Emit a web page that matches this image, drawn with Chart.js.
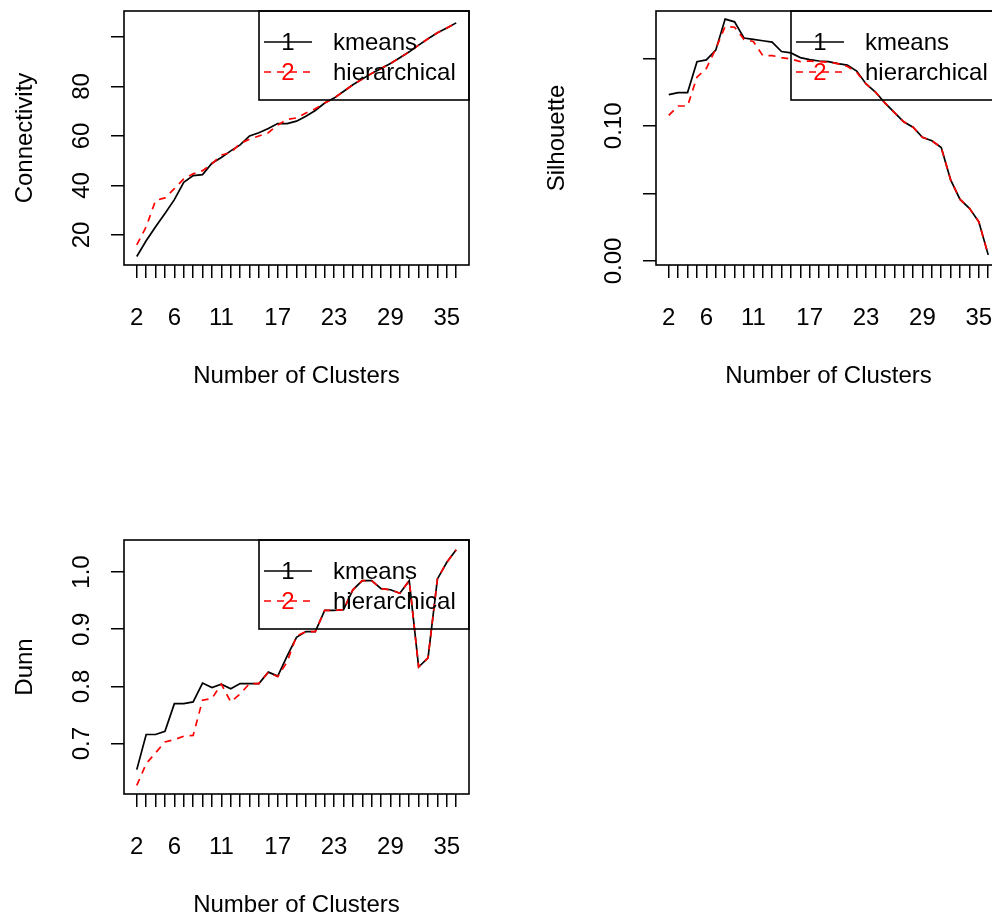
<!DOCTYPE html>
<html>
<head>
<meta charset="utf-8">
<script src="https://cdn.jsdelivr.net/npm/chart.js@4/dist/chart.umd.min.js"></script>
<style>
  html, body { margin: 0; padding: 0; background: #fff; overflow: hidden; width: 992px; height: 916px; }
  .panel { position: absolute; width: 496px; height: 458px; }
</style>
</head>
<body>
<div class="panel" style="left:0;top:0"><canvas id="conn" width="496" height="458"></canvas></div>
<div class="panel" style="left:532px;top:0"><canvas id="sil" width="496" height="458"></canvas></div>
<div class="panel" style="left:0;top:529px"><canvas id="dunn" width="496" height="458"></canvas></div>
<script>
const clusters = [2, 3, 4, 5, 6, 7, 8, 9, 10, 11, 12, 13, 14, 15, 16, 17, 18, 19,
  20, 21, 22, 23, 24, 25, 26, 27, 28, 29, 30, 31, 32, 33, 34, 35, 36];
const xTickLabels = [2, 6, 11, 17, 23, 29, 35];
const seriesNames = ['kmeans', 'hierarchical'];

const connKmeans = [11.3, 17.7, 23.3, 28.7, 34.3, 41.3, 44.0, 44.4, 49.0, 51.3, 54.0, 56.4,
  60.0, 61.3, 63.0, 65.0, 65.0, 66.0, 68.0, 70.3, 73.3, 75.3, 78.0, 80.7, 83.0, 85.3,
  87.3, 89.3, 91.6, 94.0, 96.7, 99.3, 101.7, 103.6, 105.7];
const connHier = [16.0, 23.3, 34.0, 35.0, 38.7, 42.7, 44.7, 46.0, 48.7, 52.3, 53.3, 57.0,
  58.7, 60.0, 61.3, 64.4, 66.7, 67.3, 69.3, 71.0, 73.3, 75.3, 78.0, 80.7, 83.0, 85.3,
  87.3, 89.3, 91.6, 94.0, 96.7, 99.3, 101.7, 103.6, 105.7];

const silKmeans = [0.1231, 0.1246, 0.1246, 0.1475, 0.1488, 0.156, 0.179, 0.177, 0.165,
  0.164, 0.163, 0.162, 0.155, 0.154, 0.1505, 0.149, 0.148, 0.1475, 0.146, 0.145, 0.1405,
  0.131, 0.125, 0.117, 0.110, 0.103, 0.099, 0.0915, 0.089, 0.084, 0.060, 0.0455, 0.039,
  0.029, 0.0045];
const silHier = [0.1077, 0.1147, 0.1147, 0.136, 0.1425, 0.157, 0.1736, 0.173, 0.164,
  0.1624, 0.152, 0.152, 0.1505, 0.1495, 0.1475, 0.148, 0.1475, 0.147, 0.146, 0.144, 0.1396,
  0.131, 0.125, 0.117, 0.110, 0.103, 0.099, 0.0915, 0.089, 0.084, 0.060, 0.0455, 0.039,
  0.029, 0.0045];

const dunnKmeans = [0.6546, 0.716, 0.716, 0.7216, 0.770, 0.770, 0.773, 0.806, 0.798, 0.804,
  0.796, 0.805, 0.805, 0.805, 0.825, 0.818, 0.853, 0.886, 0.896, 0.896, 0.933, 0.933,
  0.934, 0.969, 0.985, 0.985, 0.971, 0.969, 0.963, 0.985, 0.834, 0.850, 0.988, 1.017, 1.039];
const dunnHier = [0.627, 0.665, 0.684, 0.703, 0.707, 0.713, 0.7145, 0.776, 0.779, 0.804,
  0.773, 0.787, 0.805, 0.805, 0.825, 0.817, 0.843, 0.888, 0.896, 0.896, 0.933, 0.933,
  0.934, 0.969, 0.985, 0.985, 0.971, 0.969, 0.963, 0.985, 0.834, 0.850, 0.988, 1.017, 1.039];

const connTicks = [20, 40, 60, 80, 100];
const connTickLabels = ['20', '40', '60', '80', ''];
const silTicks = [0, 0.05, 0.10, 0.15];
const silTickLabels = ['0.00', '', '0.10', ''];
const dunnTicks = [0.7, 0.8, 0.9, 1.0];
const dunnTickLabels = ['0.7', '0.8', '0.9', '1.0'];

const FONT = "'Liberation Sans', Arial, sans-serif";
const FSIZE = 24;

// box, rotated y labels and R-style legend
const rDecor = {
  id: 'rDecor',
  afterDraw(chart) {
    const ctx = chart.ctx;
    const ca = chart.chartArea;
    const opts = chart.options.plugins.rDecor;
    ctx.save();
    ctx.strokeStyle = '#000';
    ctx.lineWidth = 1.6;
    ctx.strokeRect(ca.left, ca.top, ca.right - ca.left, ca.bottom - ca.top);

    ctx.fillStyle = '#000';
    ctx.font = FSIZE + 'px ' + FONT;
    ctx.textAlign = 'center';
    ctx.textBaseline = 'middle';
    const ys = chart.scales.y;
    opts.ticks.forEach((v, i) => {
      if (!opts.labels[i]) return;
      const py = ys.getPixelForValue(v);
      ctx.save();
      ctx.translate(ca.left - 43, py);
      ctx.rotate(-Math.PI / 2);
      ctx.fillText(opts.labels[i], 0, 1);
      ctx.restore();
    });

    // legend
    const lx = ca.left + 135, ly = ca.top;
    ctx.lineWidth = 1.6;
    ctx.strokeRect(lx, ly, ca.right - lx, 89);
    const colors = ['#000', '#ff0000'];
    seriesNames.forEach((name, i) => {
      const ry = ly + 31 + i * 30;
      ctx.strokeStyle = colors[i];
      ctx.setLineDash(i === 1 ? [7, 6] : []);
      ctx.beginPath();
      ctx.moveTo(lx + 5, ry);
      ctx.lineTo(lx + 53, ry);
      ctx.stroke();
      ctx.setLineDash([]);
      ctx.fillStyle = colors[i];
      ctx.textAlign = 'center';
      ctx.fillText(String(i + 1), lx + 29, ry + 1);
      ctx.fillStyle = '#000';
      ctx.textAlign = 'left';
      ctx.fillText(name, lx + 74, ry + 1);
    });
    ctx.restore();
  }
};

function makePanel(id, yTitle, kData, hData, ticks, labels, yMin, yMax) {
  new Chart(document.getElementById(id), {
    type: 'line',
    data: {
      datasets: [
        { label: seriesNames[0], data: clusters.map((c, i) => ({ x: c, y: kData[i] })),
          borderColor: '#000', borderWidth: 1.7, pointRadius: 0, tension: 0, order: 2 },
        { label: seriesNames[1], data: clusters.map((c, i) => ({ x: c, y: hData[i] })),
          borderColor: '#ff0000', borderWidth: 1.7, borderDash: [7, 6], pointRadius: 0, tension: 0, order: 1 }
      ]
    },
    options: {
      responsive: false,
      animation: false,
      devicePixelRatio: 1,
      layout: { padding: { top: 11, right: 27, left: 0, bottom: 0 } },
      plugins: {
        legend: { display: false },
        tooltip: { enabled: false },
        rDecor: { ticks: ticks, labels: labels }
      },
      scales: {
        x: {
          type: 'linear',
          min: 0.64,
          max: 37.36,
          afterBuildTicks: s => { s.ticks = clusters.map(v => ({ value: v })); },
          afterFit: s => { s.height = 193; },
          grid: { drawOnChartArea: false, drawTicks: true, tickLength: 13, color: '#000', lineWidth: 1.5 },
          border: { display: false },
          ticks: {
            autoSkip: false, maxRotation: 0, minRotation: 0, padding: 26,
            color: '#000', font: { family: FONT, size: FSIZE },
            callback: v => xTickLabels.includes(v) ? String(v) : ''
          },
          title: { display: true, text: 'Number of Clusters', color: '#000',
            font: { family: FONT, size: FSIZE }, padding: { top: 0, bottom: 67 } }
        },
        y: {
          type: 'linear',
          min: yMin,
          max: yMax,
          afterBuildTicks: s => { s.ticks = ticks.map(v => ({ value: v })); },
          afterFit: s => { s.width = 124; s.paddingTop = 0; s.paddingBottom = 0; },
          grid: { drawOnChartArea: false, drawTicks: true, tickLength: 13, color: '#000', lineWidth: 1.5 },
          border: { display: false },
          ticks: { callback: () => '', font: { family: FONT, size: 1 } },
          title: { display: true, text: yTitle, color: '#000',
            font: { family: FONT, size: FSIZE }, padding: { top: 11, bottom: 0 } }
        }
      }
    },
    plugins: [rDecor]
  });
}

makePanel('conn', 'Connectivity', connKmeans, connHier, connTicks, connTickLabels, 7.88, 110.5);
makePanel('sil', 'Silhouette', silKmeans, silHier, silTicks, silTickLabels, -0.003, 0.185);
makePanel('dunn', 'Dunn', dunnKmeans, dunnHier, dunnTicks, dunnTickLabels, 0.612, 1.056);
</script>
</body>
</html>
